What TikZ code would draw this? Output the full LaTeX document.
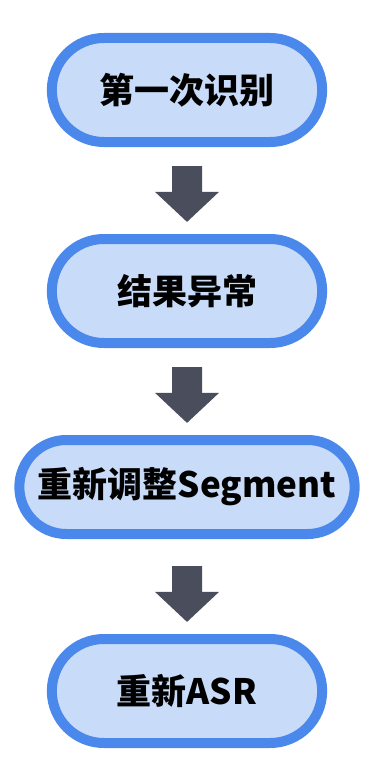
\documentclass[tikz,border=0pt]{standalone}
\usepackage{fontspec}
\newfontfamily\cjk{Noto Sans CJK SC}
\usepackage{tikz}
\usetikzlibrary{arrows.meta,
                positioning,
                shapes.misc
                }
\definecolor{pillfill}{HTML}{C8DBF8}
\definecolor{pillline}{HTML}{4A88EC}
\definecolor{flowgray}{HTML}{4A4E5C}

\begin{document}
\begin{tikzpicture}[x=1pt, y=-1pt, node distance=87pt,
        pill/.style={rounded rectangle, draw=pillline, fill=pillfill, line width=10pt,
                     minimum width=277pt, minimum height=104pt,
                     font={\cjk\bfseries\fontsize{35}{40}\selectfont}},
        flow/.style={draw=flowgray, line width=30pt, -{Triangle[width=62pt, length=30pt]},
                     shorten <=19pt, shorten >=12pt}]
            %canvas
            \useasboundingbox (0,0) rectangle (375,765);

            %steps
            \node[pill] (first) at (187,90) {第一次识别};
            \node[pill, below=of first] (abnormal) {结果异常};
            \node[pill, below=of abnormal, minimum width=342pt, minimum height=94pt] (segment) {重新调整Segment};
            \node[pill, below=95pt of segment] (rerun) {重新ASR};

            %arrows
            \draw[flow] (first) -- (abnormal);
            \draw[flow] (abnormal) -- (segment);
            \draw[flow, shorten <=27pt] (segment) -- (rerun);
\end{tikzpicture}
\end{document}
